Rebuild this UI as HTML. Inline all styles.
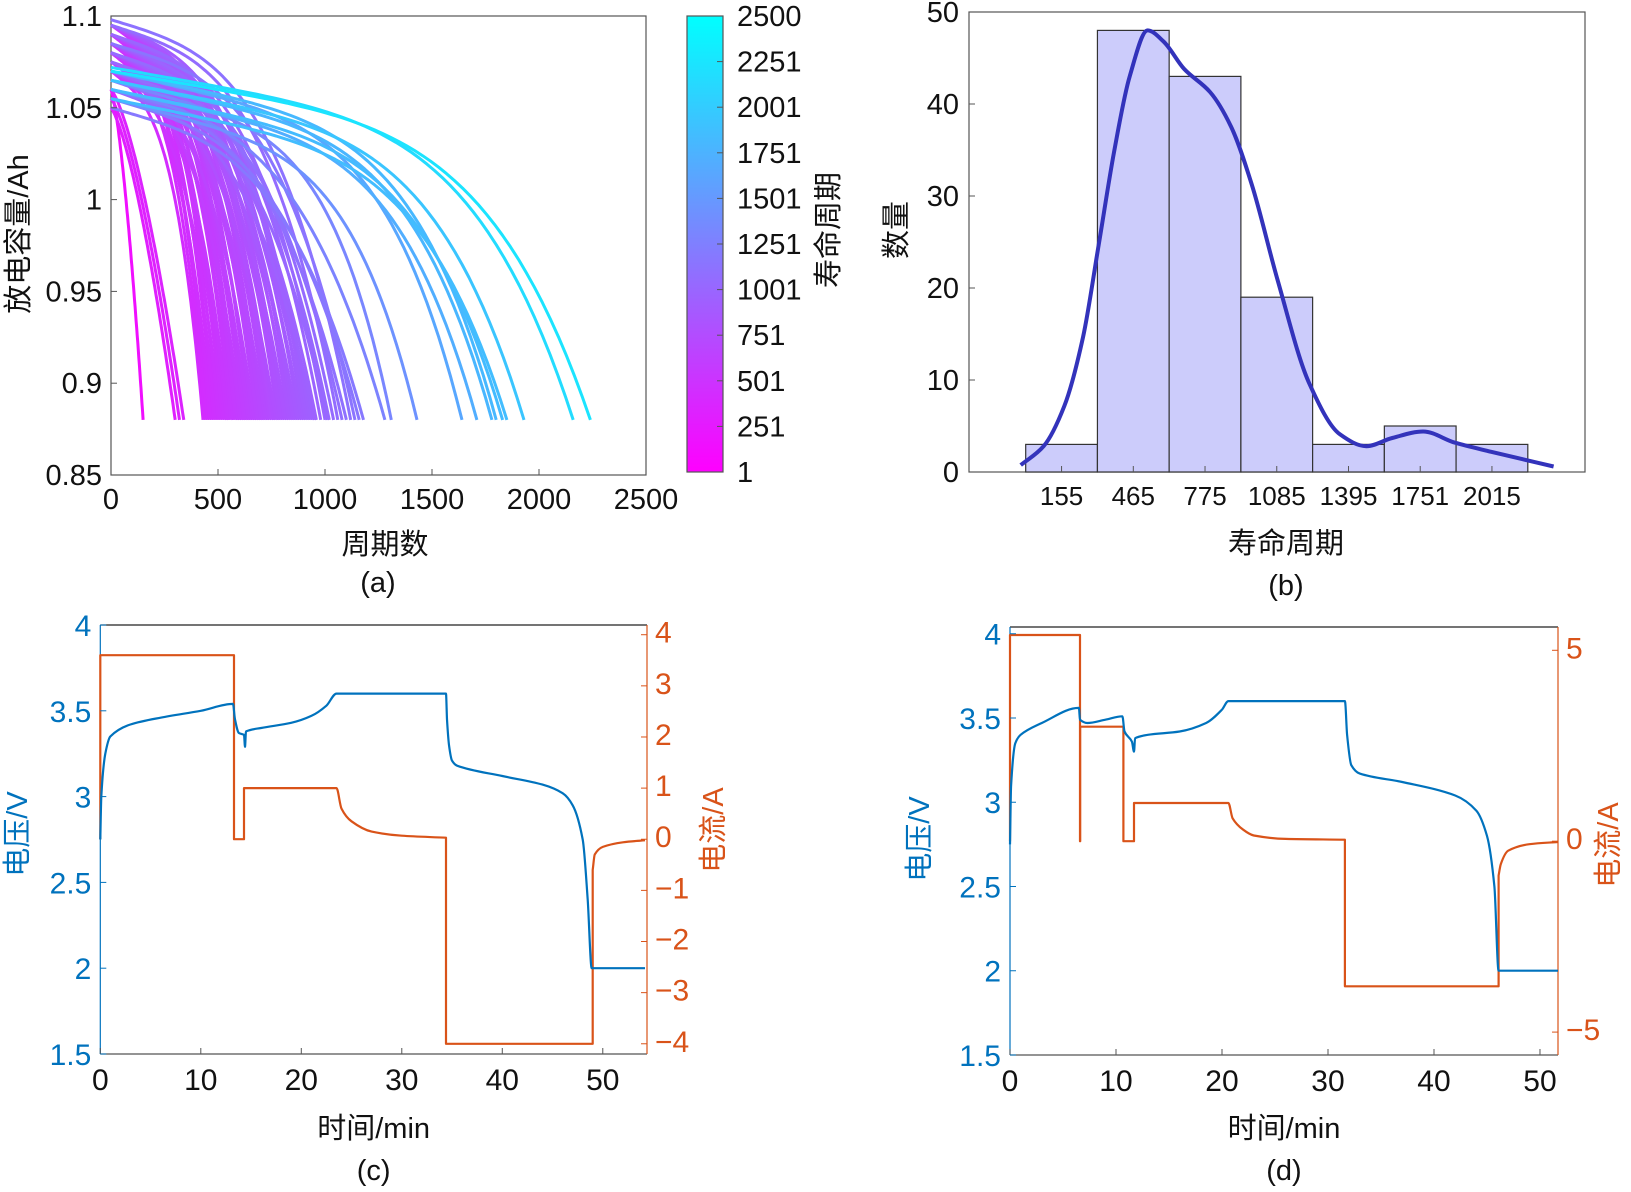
<!DOCTYPE html>
<html><head><meta charset="utf-8">
<style>
html,body{margin:0;padding:0;background:#fff;}
svg{display:block;font-family:"Liberation Sans","Noto Sans CJK SC",sans-serif;}
</style></head>
<body>
<svg id="fig" width="1631" height="1192" viewBox="0 0 1631 1192" xmlns="http://www.w3.org/2000/svg">
<defs>
<linearGradient id="coolGrad" x1="0" y1="1" x2="0" y2="0">
<stop offset="0" stop-color="#ff00ff"/><stop offset="1" stop-color="#00ffff"/>
</linearGradient>
</defs>
<g id="pa"></g>
<g id="pb"></g>
<g id="pc"></g>
<g id="pd"></g>
</svg>
<script>
// ---------- Panel (a) data ----------
const cellLife = [150,300,320,340,430,440,450,460,470,480,490,500,510,520,530,540,550,560,570,580,590,600,610,620,630,640,650,660,670,680,690,700,710,720,730,740,750,760,770,780,790,800,810,820,830,840,850,860,870,880,890,900,910,920,930,940,950,960,980,1000,1010,1020,1040,1060,1080,1100,1120,1140,1160,1180,1280,1310,1430,1640,1710,1780,1800,1830,1850,1930,2160,2240];
const cellQ0 = [1.06,1.05,1.055,1.06,1.07,1.08,1.09,1.085,1.075,1.09,1.08,1.095,1.07,1.085,1.09,1.08,1.075,1.09,1.085,1.095,1.08,1.09,1.07,1.085,1.09,1.08,1.095,1.085,1.07,1.09,1.08,1.085,1.095,1.075,1.09,1.08,1.085,1.09,1.07,1.095,1.08,1.085,1.09,1.075,1.095,1.08,1.09,1.085,1.07,1.09,1.08,1.095,1.075,1.085,1.09,1.08,1.06,1.07,1.085,1.09,1.065,1.075,1.08,1.095,1.07,1.06,1.098,1.085,1.055,1.05,1.06,1.065,1.055,1.07,1.06,1.065,1.07,1.06,1.055,1.065,1.072,1.07];
const aXTicks = [0,500,1000,1500,2000,2500];
const aYTicks = [0.85,0.9,0.95,1,1.05,1.1];
const aYTickLabels = ["0.85","0.9","0.95","1","1.05","1.1"];
const cbarLabels = ["1","251","501","751","1001","1251","1501","1751","2001","2251","2500"];
// ---------- Panel (b) data ----------
const binLabels = ["155","465","775","1085","1395","1751","2015"];
const binCounts = [3,48,43,19,3,5,3];
const kdeX = [-0.07,0.25,0.54,0.8,1.01,1.23,1.45,1.7,1.92,2.21,2.57,2.86,3.15,3.51,3.95,4.38,4.75,5.11,5.54,5.98,6.49,6.92,7.36];
const kdeY = [0.75,2.8,7.2,14.7,24.3,34.7,43,48,46.8,43.8,41.3,37.6,31.3,20.9,9.7,4.1,2.8,3.7,4.4,3.2,2.2,1.4,0.6];
const bYTicks = [0,10,20,30,40,50];
// ---------- Panel (c) data ----------
const cVt = [0,0.1,0.5,1,3,6,10,13.2,13.4,13.8,14.3,14.4,14.5,16,19,21,22.5,23.5,34.4,34.5,34.7,35,35.5,40,44,46,47,48,48.5,48.9,54.2];
const cV  = [2.75,3.0,3.25,3.35,3.42,3.46,3.5,3.54,3.45,3.37,3.36,3.29,3.38,3.4,3.43,3.47,3.53,3.6,3.6,3.45,3.3,3.21,3.18,3.12,3.07,3.02,2.95,2.75,2.4,2.0,2.0];
const cIt = [0,0,13.3,13.3,14.3,14.3,23.5,24,25,27,30,34.4,34.4,49,49,49.2,50,52,54.2];
const cI  = [0,3.6,3.6,0,0,1,1,0.6,0.35,0.15,0.07,0.03,-4,-4,-0.6,-0.3,-0.15,-0.06,-0.02];
const cXTicks = [0,10,20,30,40,50];
const cYLTicks = [1.5,2,2.5,3,3.5,4];
const cYRTicks = [-4,-3,-2,-1,0,1,2,3,4];
// ---------- Panel (d) data ----------
const dVt = [0,0.1,0.5,1,3,6.5,6.6,7.3,9,10.6,10.8,11.5,11.7,11.8,13,16,18.5,20,20.6,31.6,31.8,32.2,33,37,42,44,45,45.7,46.1,51.7];
const dV  = [2.75,3.1,3.35,3.4,3.47,3.56,3.49,3.47,3.49,3.51,3.42,3.36,3.3,3.38,3.4,3.42,3.47,3.55,3.6,3.6,3.4,3.22,3.17,3.12,3.04,2.95,2.8,2.5,2.0,2.0];
const dIt = [0,0,6.6,6.6,6.62,6.62,10.7,10.7,11.7,11.7,20.6,21,22,23,26,31.6,31.6,46.1,46.1,46.3,47,49,51.7];
const dI  = [0,5.4,5.4,0,0,3.0,3.0,0,0,1,1,0.6,0.3,0.15,0.06,0.04,-3.8,-3.8,-0.9,-0.6,-0.25,-0.08,-0.02];
const dXTicks = [0,10,20,30,40,50];
const dYLTicks = [1.5,2,2.5,3,3.5,4];
const dYRTicks = [-5,0,5];

const NS = "http://www.w3.org/2000/svg";
function mk(parent, tag, attrs, text){
  const e = document.createElementNS(NS, tag);
  for (const k in attrs) e.setAttribute(k, attrs[k]);
  if (text !== undefined) e.textContent = text;
  parent.appendChild(e);
  return e;
}
// monotone cubic path through pixel points; vertical jumps (equal x) drawn as straight lines
function smoothPath(px, py){
  const n = px.length;
  let d = 'M'+px[0].toFixed(1)+','+py[0].toFixed(1);
  let s = 0;
  while (s < n-1){
    let e = s;
    while (e < n-1 && Math.abs(px[e+1]-px[e])>0.01) e++;
    if (e > s){
      const m = [], dl = [];
      for (let k=s;k<e;k++){ dl.push((py[k+1]-py[k])/(px[k+1]-px[k])); }
      for (let k=s;k<=e;k++){
        const j=k-s;
        if (k===s) m.push(dl[0]);
        else if (k===e) m.push(dl[j-1]);
        else if (dl[j-1]*dl[j] <= 0) m.push(0);
        else m.push(2/(1/dl[j-1]+1/dl[j]));
      }
      for (let k=s;k<e;k++){
        const j=k-s, h=(px[k+1]-px[k])/3;
        d += 'C'+(px[k]+h).toFixed(1)+','+(py[k]+m[j]*h).toFixed(1)+' '+(px[k+1]-h).toFixed(1)+','+(py[k+1]-m[j+1]*h).toFixed(1)+' '+px[k+1].toFixed(1)+','+py[k+1].toFixed(1);
      }
    }
    if (e < n-1){ d += 'L'+px[e+1].toFixed(1)+','+py[e+1].toFixed(1); }
    s = e+1;
  }
  return d;
}
const BLUE = "#0072BD", ORANGE = "#D95319";

// ===== Panel A =====
(function(){
  const g = document.getElementById('pa');
  const L=111,R=646,T=16,B=475;
  const xa = v => L + v/2500*(R-L);
  const ya = v => B - (v-0.85)/0.25*(B-T);
  const box = mk(g,'rect',{x:L,y:T,width:R-L,height:B-T,fill:'none',stroke:'#555','stroke-width':1.2});
  
  
  const curves = mk(g,'g',{});
  
  
  for (let i=0;i<cellLife.length;i++){
    const N=cellLife[i], Q0=cellQ0[i];
    const p = N<400 ? 1.6 : (N<1300 ? 3.5 : 5);
    const lin = N<1300 ? 0.04 : 0.045;
    let d='';
    for (let k=0;k<=60;k++){
      const n = N*k/60, r = n/N;
      const q = Q0 - lin*r - (Q0-lin-0.88)*Math.pow(r,p);
      d += (k?'L':'M') + xa(n).toFixed(1)+','+ya(q).toFixed(1);
    }
    const t = Math.min(1,N/2500);
    const col = `rgb(${Math.round(255*(1-t))},${Math.round(255*t)},255)`;
    const pth = mk(curves,'path',{d:d,fill:'none',stroke:col,'stroke-width':3,'stroke-linejoin':'round'});
    
    
  }
  aXTicks.forEach(v=>{
    mk(g,'line',{x1:xa(v),x2:xa(v),y1:B,y2:B-6,stroke:'#555'});
    const t=mk(g,'text',{x:xa(v),y:509,'font-size':29,'text-anchor':'middle',fill:'#111'},String(v));
    
    
  });
  aYTicks.forEach((v,i)=>{
    mk(g,'line',{x1:L,x2:L+6,y1:ya(v),y2:ya(v),stroke:'#555'});
    const t=mk(g,'text',{x:L-9,y:ya(v)+10,'font-size':29,'text-anchor':'end',fill:'#111'},aYTickLabels[i]);
    
    
  });
  const xl=mk(g,'text',{x:385,y:554,'font-size':29,'text-anchor':'middle',fill:'#111'},'周期数');
  
  
  const yl=mk(g,'text',{x:0,y:0,'font-size':29,'text-anchor':'middle',fill:'#111',transform:'translate(28,234) rotate(-90)'},'放电容量/Ah');
  
  
  const cap=mk(g,'text',{x:378,y:592,'font-size':29,'text-anchor':'middle',fill:'#111'},'(a)');
  
  
  const cb=mk(g,'rect',{x:687,y:16,width:36,height:456,fill:'url(#coolGrad)',stroke:'#555','stroke-width':1.2});
  
  
  cbarLabels.forEach((s,i)=>{
    const y = 472 - i*(456/10);
    mk(g,'line',{x1:717,x2:723,y1:y,y2:y,stroke:'#555'});
    const t=mk(g,'text',{x:737,y:y+10,'font-size':29,fill:'#111'},s);
    
    
  });
  const cl=mk(g,'text',{x:0,y:0,'font-size':29,'text-anchor':'middle',fill:'#111',transform:'translate(838,230) rotate(-90)'},'寿命周期');
  
  
})();

// ===== Panel B =====
(function(){
  const g=document.getElementById('pb');
  const L=969,R=1585,T=12,B=472;
  const xb = v => 1025.7 + v*71.73;
  const yb = v => B - v/50*(B-T);
  const box=mk(g,'rect',{x:L,y:T,width:R-L,height:B-T,fill:'none',stroke:'#555','stroke-width':1.2});
  
  
  binCounts.forEach((c,i)=>{
    const r=mk(g,'rect',{x:xb(i),y:yb(c),width:xb(i+1)-xb(i),height:B-yb(c),fill:'#ccccfb',stroke:'#333','stroke-width':1.2});
    
    
    mk(g,'line',{x1:xb(i+0.5),x2:xb(i+0.5),y1:B,y2:B-6,stroke:'#555'});
    const t=mk(g,'text',{x:xb(i+0.5),y:505,'font-size':26,'text-anchor':'middle',fill:'#111'},binLabels[i]);
    
    
  });
  const d = smoothPath(kdeX.map(xb), kdeY.map(yb));
  const kp=mk(g,'path',{d:d,fill:'none',stroke:'#3333bb','stroke-width':4,'stroke-linejoin':'round'});
  
  
  bYTicks.forEach(v=>{
    mk(g,'line',{x1:L,x2:L+6,y1:yb(v),y2:yb(v),stroke:'#555'});
    const t=mk(g,'text',{x:L-10,y:yb(v)+10,'font-size':29,'text-anchor':'end',fill:'#111'},String(v));
    
    
  });
  const xl=mk(g,'text',{x:1286,y:553,'font-size':29,'text-anchor':'middle',fill:'#111'},'寿命周期');
  
  
  const yl=mk(g,'text',{x:0,y:0,'font-size':29,'text-anchor':'middle',fill:'#111',transform:'translate(906,230) rotate(-90)'},'数量');
  
  
  const cap=mk(g,'text',{x:1286,y:595,'font-size':29,'text-anchor':'middle',fill:'#111'},'(b)');
  
  
})();

// ===== Panels C & D =====
function dual(id, o){
  const g=document.getElementById(id);
  const {L,R,T,B,tmax,vmin,vmax,imin,imax} = o;
  const x = t => L + t/tmax*(R-L);
  const yL = v => B - (v-vmin)/(vmax-vmin)*(B-T);
  const yR = v => B - (v-imin)/(imax-imin)*(B-T);
  mk(g,'line',{x1:L,x2:R,y1:T,y2:T,stroke:'#222','stroke-width':1.2});
  mk(g,'line',{x1:L,x2:R,y1:B,y2:B,stroke:'#555','stroke-width':1.2});
  const la=mk(g,'line',{x1:L,x2:L,y1:T,y2:B,stroke:BLUE,'stroke-width':1.2});
  
  
  const ra=mk(g,'line',{x1:R,x2:R,y1:T,y2:B,stroke:ORANGE,'stroke-width':1.2});
  
  
  const d = smoothPath(o.vt.map(x), o.v.map(yL));
  const d2 = smoothPath(o.it.map(x), o.i.map(yR));
  const ip=mk(g,'path',{d:d2,fill:'none',stroke:ORANGE,'stroke-width':2.2,'stroke-linejoin':'round'});
  
  
  const vp=mk(g,'path',{d:d,fill:'none',stroke:BLUE,'stroke-width':2.2,'stroke-linejoin':'round'});
  
  
  o.xt.forEach(v=>{
    mk(g,'line',{x1:x(v),x2:x(v),y1:B,y2:B-6,stroke:'#555'});
    const t=mk(g,'text',{x:x(v),y:B+36,'font-size':30,'text-anchor':'middle',fill:'#111'},String(v));
    
    
  });
  o.ylt.forEach(v=>{
    mk(g,'line',{x1:L,x2:L+6,y1:yL(v),y2:yL(v),stroke:BLUE});
    const t=mk(g,'text',{x:L-9,y:yL(v)+11,'font-size':30,'text-anchor':'end',fill:BLUE},String(v));
    
    
  });
  o.yrt.forEach(v=>{
    mk(g,'line',{x1:R-6,x2:R,y1:yR(v),y2:yR(v),stroke:ORANGE});
    const t=mk(g,'text',{x:R+8,y:yR(v)+8,'font-size':30,fill:ORANGE},(v<0?'\u2212'+(-v):String(v)));
    
    
  });
  const xl=mk(g,'text',{x:(L+R)/2,y:1138,'font-size':29,'text-anchor':'middle',fill:'#111'},'时间/min');
  
  
  const yl=mk(g,'text',{x:0,y:0,'font-size':29,'text-anchor':'middle',fill:BLUE,transform:`translate(${o.ylx},${o.yly}) rotate(-90)`},'电压/V');
  
  
  const yr=mk(g,'text',{x:0,y:0,'font-size':29,'text-anchor':'middle',fill:ORANGE,transform:`translate(${o.yrx},${o.yry}) rotate(-90)`},'电流/A');
  
  
  const cap=mk(g,'text',{x:(L+R)/2,y:1180,'font-size':29,'text-anchor':'middle',fill:'#111'},'('+o.tag+')');
  
  
}
dual('pc',{tag:'c',L:100.3,R:647,T:625,B:1054,tmax:54.4,vmin:1.5,vmax:4,imin:-4.2,imax:4.19,
  vt:cVt,v:cV,it:cIt,i:cI,xt:cXTicks,ylt:cYLTicks,yrt:cYRTicks,ylx:27,yly:834,yrx:723,yry:830});
dual('pd',{tag:'d',L:1010,R:1558,T:627,B:1055,tmax:51.7,vmin:1.5,vmax:4.04,imin:-5.6,imax:5.61,
  vt:dVt,v:dV,it:dIt,i:dI,xt:dXTicks,ylt:dYLTicks,yrt:dYRTicks,ylx:929,yly:839,yrx:1618,yry:845});
</script>
</body></html>
